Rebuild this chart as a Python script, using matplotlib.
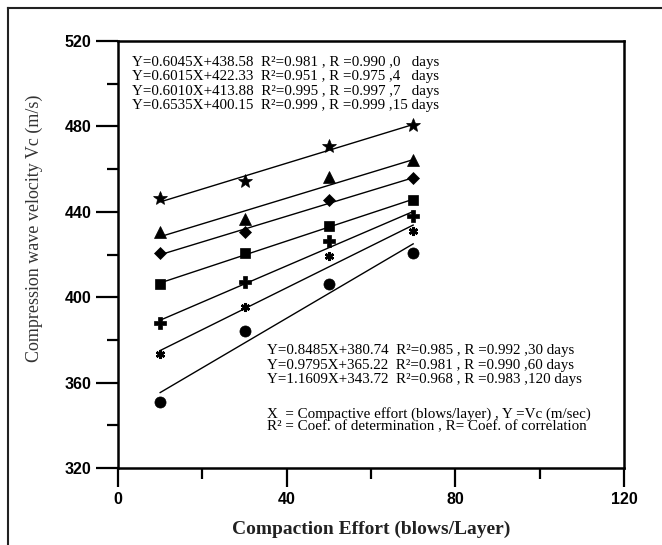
import matplotlib
matplotlib.use("Agg")
import matplotlib.pyplot as plt
from matplotlib.lines import Line2D
from matplotlib.ticker import MultipleLocator
import numpy as np

# ---- data ----
effort = [10, 30, 50, 70]
days = ["0", "4", "7", "15", "30", "60", "120"]
v_0 = [446.4, 454.6, 470.9, 480.7]
v_4 = [430.4, 436.7, 456.1, 464.4]
v_7 = [420.5, 430.4, 445.4, 455.8]
v_15 = [406.4, 420.5, 433.2, 445.7]
v_30 = [387.8, 407.0, 426.2, 438.2]
v_60 = [373.3, 395.6, 419.2, 430.9]
v_120 = [350.7, 384.2, 406.0, 420.8]
slopes = [0.6045, 0.6015, 0.6010, 0.6535, 0.8485, 0.9795, 1.1609]
intercepts = [438.58, 422.33, 413.88, 400.15, 380.74, 365.22, 343.72]
r2 = ["0.981", "0.951", "0.995", "0.999", "0.985", "0.981", "0.968"]
r = ["0.990", "0.975", "0.997", "0.999", "0.992", "0.990", "0.983"]
x_ticks = [0, 40, 80, 120]
y_ticks = [320, 360, 400, 440, 480, 520]

series = [v_0, v_4, v_7, v_15, v_30, v_60, v_120]
markers = ["*", "^", "D", "s", "P", (6, 2, 0), "o"]
msizes = [10, 8, 6, 7, 8, 6.5, 8]

fig = plt.figure(figsize=(6.62, 5.45), dpi=100)
ax = fig.add_axes([118/662, 1-468/545, (624-118)/662, (468-41)/545])

xfit = np.array([effort[0], effort[-1]])
for vals, m, ms, a, b in zip(series, markers, msizes, slopes, intercepts):
    ax.plot(xfit, a*xfit + b, color="black", lw=1.0)
    ax.plot(effort, vals, linestyle="none", marker=m, ms=ms, color="black",
            mec="black", mew=1.8 if m == (6, 2, 0) else 0.5)

ax.set_xlim(0, 120)
ax.set_ylim(320, 520)
ax.set_xticks(x_ticks)
ax.set_yticks(y_ticks)
ax.xaxis.set_minor_locator(MultipleLocator(20))
ax.yaxis.set_minor_locator(MultipleLocator(20))
ax.tick_params(which="major", direction="out", length=14, width=1.6, pad=3)
ax.tick_params(axis="y", which="major", length=16, pad=3)
ax.tick_params(which="minor", direction="out", length=8, width=1.6)
for lab in ax.get_xticklabels() + ax.get_yticklabels():
    lab.set_fontfamily("Liberation Sans")
    lab.set_fontweight("bold")
    lab.set_fontsize(11.5)
for s in ax.spines.values():
    s.set_linewidth(1.8)

ax.set_xlabel("Compaction Effort (blows/Layer)", family="Liberation Serif",
              fontsize=14, fontweight="bold", color="#222222", labelpad=10)
ax.set_ylabel("Compression wave velocity Vc (m/s)", family="Liberation Serif",
              fontsize=13, color="#333333")
ax.yaxis.set_label_coords(-0.148, 0.561)

def eq_line(i):
    return "Y={:.4f}X+{:.2f}  R\u00b2=".format(slopes[i], intercepts[i]) + \
        "{} , R ={} ,{} days".format(r2[i], r[i], days[i])

top_lines = [eq_line(i) for i in range(4)]
for k in range(3):
    top_lines[k] = top_lines[k].replace(" days", "   days")
fs = 10.8
ax.text(0.028, 0.965, "\n".join(top_lines), transform=ax.transAxes,
        family="Liberation Serif", fontsize=fs, va="top", ha="left",
        linespacing=1.15)
bot_lines = [eq_line(i) for i in range(4, 7)]
ax.text(0.294, 0.29, "\n".join(bot_lines), transform=ax.transAxes,
        family="Liberation Serif", fontsize=fs, va="top", ha="left",
        linespacing=1.15)
ax.text(0.294, 0.143,
        "X  = Compactive effort (blows/layer) , Y =Vc (m/sec)\n"
        "R\u00b2 = Coef. of determination , R= Coef. of correlation",
        transform=ax.transAxes, family="Liberation Serif", fontsize=fs,
        va="top", ha="left", linespacing=0.9)

# outer frame (top and left edges)
fig.add_artist(Line2D([8/662, 1], [1-8/545, 1-8/545], color="#222222", lw=1.5))
fig.add_artist(Line2D([8/662, 8/662], [0, 1-8/545], color="#222222", lw=1.5))

fig.savefig("out.png", dpi=100)
